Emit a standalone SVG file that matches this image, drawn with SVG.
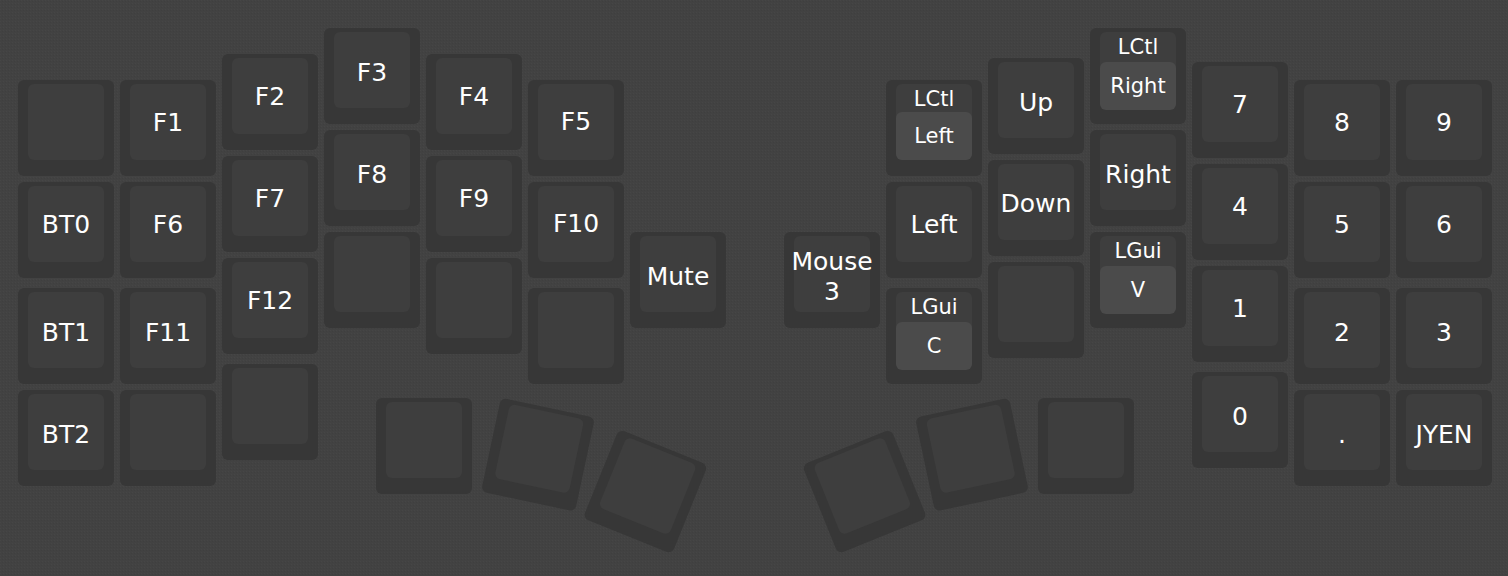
<svg xmlns="http://www.w3.org/2000/svg" width="1508" height="576" viewBox="0 0 1508 576">
<style>
.o{fill:#373737}
.i{fill:#3e3e3e}
.h{fill:#4b4b4b}
text{font-family:"DejaVu Sans","Liberation Sans",sans-serif;fill:#ffffff;text-anchor:middle}
.t{font-size:25px}
.s{font-size:21px}
</style>
<defs>
<pattern id="noise" width="3" height="3" patternUnits="userSpaceOnUse">
<rect width="3" height="3" fill="#424242"/>
<rect x="0" y="0" width="1" height="1" fill="#464646"/>
<rect x="2" y="1" width="1" height="1" fill="#3f3f3f"/>
</pattern>
<g id="key"><rect class="o" width="96" height="96" rx="6"/><rect class="i" x="10" y="4" width="76" height="76" rx="6"/></g>
<g id="rkey"><rect class="o" x="-48" y="-48" width="96" height="96" rx="6"/><rect class="i" x="-38" y="-44" width="76" height="76" rx="6"/></g>
</defs>
<rect width="1508" height="576" fill="url(#noise)"/>

<g id="left-hand">
<g id="k-l-r1c1" transform="translate(18,80)"><use href="#key"/></g>
<g id="k-BT0" transform="translate(18,182)"><use href="#key"/><text class="t" x="48" y="50.6">BT0</text></g>
<g id="k-BT1" transform="translate(18,288)"><use href="#key"/><text class="t" x="48" y="52.6">BT1</text></g>
<g id="k-BT2" transform="translate(18,390)"><use href="#key"/><text class="t" x="48" y="52.8">BT2</text></g>

<g id="k-F1" transform="translate(120,80)"><use href="#key"/><text class="t" x="48" y="50.6">F1</text></g>
<g id="k-F6" transform="translate(120,182)"><use href="#key"/><text class="t" x="48" y="50.6">F6</text></g>
<g id="k-F11" transform="translate(120,288)"><use href="#key"/><text class="t" x="48" y="52.6">F11</text></g>
<g id="k-l-r4c2" transform="translate(120,390)"><use href="#key"/></g>

<g id="k-F2" transform="translate(222,54)"><use href="#key"/><text class="t" x="48" y="50.6">F2</text></g>
<g id="k-F7" transform="translate(222,156)"><use href="#key"/><text class="t" x="48" y="50.6">F7</text></g>
<g id="k-F12" transform="translate(222,258)"><use href="#key"/><text class="t" x="48" y="50.6">F12</text></g>
<g id="k-l-r4c3" transform="translate(222,364)"><use href="#key"/></g>

<g id="k-F3" transform="translate(324,28)"><use href="#key"/><text class="t" x="48" y="52.9">F3</text></g>
<g id="k-F8" transform="translate(324,130)"><use href="#key"/><text class="t" x="48" y="52.9">F8</text></g>
<g id="k-l-r3c4" transform="translate(324,232)"><use href="#key"/></g>

<g id="k-F4" transform="translate(426,54)"><use href="#key"/><text class="t" x="48" y="50.8">F4</text></g>
<g id="k-F9" transform="translate(426,156)"><use href="#key"/><text class="t" x="48" y="50.6">F9</text></g>
<g id="k-l-r3c5" transform="translate(426,258)"><use href="#key"/></g>

<g id="k-F5" transform="translate(528,80)"><use href="#key"/><text class="t" x="48" y="50.4">F5</text></g>
<g id="k-F10" transform="translate(528,182)"><use href="#key"/><text class="t" x="48" y="50.4">F10</text></g>
<g id="k-l-r3c6" transform="translate(528,288)"><use href="#key"/></g>

<g id="k-Mute" transform="translate(630,232)"><use href="#key"/><text class="t" x="48" y="52.6">Mute</text></g>

<g id="k-l-th1" transform="translate(376,398)"><use href="#key"/></g>
<g id="k-l-th2" transform="translate(538,454.6) rotate(12)"><use href="#rkey"/></g>
<g id="k-l-th3" transform="translate(645.4,491.6) rotate(22)"><use href="#rkey"/></g>
</g>

<g id="right-hand">
<g id="k-Mouse3" transform="translate(784,232)"><use href="#key"/><text class="t" x="48" y="38">Mouse</text><text class="t" x="48" y="68">3</text></g>

<g id="k-LCtl-Left" transform="translate(886,80)"><use href="#key"/><rect class="h" x="10" y="32" width="76" height="48" rx="6"/><text class="s" x="48" y="26">LCtl</text><text class="s" x="48" y="62.7">Left</text></g>
<g id="k-Left" transform="translate(886,182)"><use href="#key"/><text class="t" x="48" y="50.6">Left</text></g>
<g id="k-LGui-C" transform="translate(886,288)"><use href="#key"/><rect class="h" x="10" y="34" width="76" height="48" rx="6"/><text class="s" x="48" y="26">LGui</text><text class="s" x="48" y="64.7">C</text></g>

<g id="k-Up" transform="translate(988,58)"><use href="#key"/><text class="t" x="48" y="52.8">Up</text></g>
<g id="k-Down" transform="translate(988,160)"><use href="#key"/><text class="t" x="48" y="52.4">Down</text></g>
<g id="k-r-r3c3" transform="translate(988,262)"><use href="#key"/></g>

<g id="k-LCtl-Right" transform="translate(1090,28)"><use href="#key"/><rect class="h" x="10" y="34" width="76" height="48" rx="6"/><text class="s" x="48" y="26">LCtl</text><text class="s" x="48" y="64.7">Right</text></g>
<g id="k-Right" transform="translate(1090,130)"><use href="#key"/><text class="t" x="48" y="53.3">Right</text></g>
<g id="k-LGui-V" transform="translate(1090,232)"><use href="#key"/><rect class="h" x="10" y="34" width="76" height="48" rx="6"/><text class="s" x="48" y="26">LGui</text><text class="s" x="48" y="64.7">V</text></g>

<g id="k-7" transform="translate(1192,62)"><use href="#key"/><text class="t" x="48" y="50.9">7</text></g>
<g id="k-4" transform="translate(1192,164)"><use href="#key"/><text class="t" x="48" y="50.6">4</text></g>
<g id="k-1" transform="translate(1192,266)"><use href="#key"/><text class="t" x="48" y="51.4">1</text></g>
<g id="k-0" transform="translate(1192,372)"><use href="#key"/><text class="t" x="48" y="52.9">0</text></g>

<g id="k-8" transform="translate(1294,80)"><use href="#key"/><text class="t" x="48" y="50.9">8</text></g>
<g id="k-5" transform="translate(1294,182)"><use href="#key"/><text class="t" x="48" y="50.8">5</text></g>
<g id="k-2" transform="translate(1294,288)"><use href="#key"/><text class="t" x="48" y="53.3">2</text></g>
<g id="k-dot" transform="translate(1294,390)"><use href="#key"/><text class="t" x="48" y="52.8">.</text></g>

<g id="k-9" transform="translate(1396,80)"><use href="#key"/><text class="t" x="48" y="50.9">9</text></g>
<g id="k-6" transform="translate(1396,182)"><use href="#key"/><text class="t" x="48" y="50.8">6</text></g>
<g id="k-3" transform="translate(1396,288)"><use href="#key"/><text class="t" x="48" y="53.3">3</text></g>
<g id="k-JYEN" transform="translate(1396,390)"><use href="#key"/><text class="t" x="48" y="52.8">JYEN</text></g>

<g id="k-r-th1" transform="translate(1038,398)"><use href="#key"/></g>
<g id="k-r-th2" transform="translate(972,454.6) rotate(-12)"><use href="#rkey"/></g>
<g id="k-r-th3" transform="translate(864.6,491.6) rotate(-22)"><use href="#rkey"/></g>
</g>

<g id="connectors"/>
</svg>
